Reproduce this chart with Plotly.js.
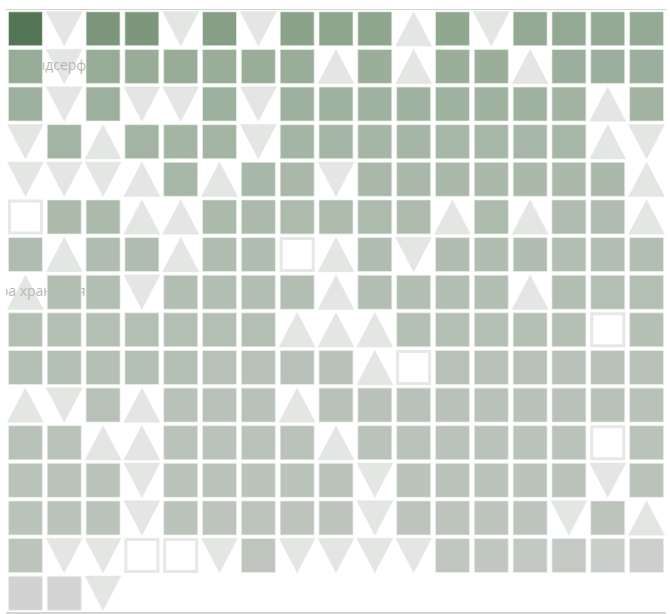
<!DOCTYPE html>
<html>
<head>
<meta charset="utf-8">
<script src="https://cdn.plot.ly/plotly-3.0.1.min.js"></script>
<style>html,body{margin:0;padding:0;background:#fff;}#chart{width:670px;height:614px;}</style>
</head>
<body>
<div id="chart"></div>
<script>
// s = filled square (coloured by value), u = up triangle, d = down triangle, n = empty square
const kinds = [
  "sdssdsdsssusdssss",
  "sdssssssusussusss",
  "sdsddsdssssssssus",
  "dsusssdssssssssud",
  "dddusussdsssssssu",
  "nssuussssssusussu",
  "sussussnusdssssss",
  "ussdssssussssusss",
  "sssssssuuusssssns",
  "sssssssssunssssss",
  "udsusssusssssssss",
  "ssuussssussssssns",
  "sssdsssssdsssssds",
  "sssdsssssdssssdsu",
  "sddnndsddddssssss",
  "ssd"
];
// values of the filled squares (null where the cell is not a filled square)
const valueRows = [
  [100,null,70,69,null,61,null,57,56,55,null,53,null,51,51,50,50],
  [48,null,48,47,47,46,46,46,null,45,null,45,45,null,44,44,44],
  [43,null,43,null,null,42,null,42,41,41,41,40,40,40,39,null,39],
  [null,38,null,38,37,37,null,37,36,36,36,35,35,35,35,null,null],
  [null,null,null,null,34,null,34,33,null,33,33,33,32,32,32,32,null],
  [null,31,31,null,null,31,31,30,30,30,30,null,30,null,29,29,null],
  [29,null,29,29,null,28,28,null,null,28,null,28,28,28,27,27,27],
  [null,27,27,null,27,26,26,26,null,26,26,26,26,null,26,25,25],
  [25,25,25,25,25,25,25,null,null,null,24,24,24,24,24,null,24],
  [24,24,24,24,24,23,23,23,23,null,null,23,23,23,23,23,23],
  [null,null,23,null,22,22,22,null,22,22,22,22,22,22,22,22,22],
  [22,21,null,null,21,21,21,21,null,21,21,21,21,21,21,null,21],
  [21,21,20,null,20,20,20,20,20,null,20,20,20,20,20,null,20],
  [20,20,20,null,20,19,19,19,19,null,19,19,19,19,null,19,null],
  [19,null,null,null,null,null,18,null,null,null,null,16,15,14,13,7,5],
  [2,0,null]
];
const labelTexts = ["Виндсерфинг", "Камера хранения"];
const labelRows = [1, 7];
const labelCols = [1, 0];

const sqX=[],sqY=[],sqV=[];
const nX=[],nY=[];
const upX=[],upY=[],dnX=[],dnY=[];
const hw = 18/38.8, hh = 17.2/37.6;
for (let r=0;r<kinds.length;r++){
  const row = kinds[r];
  for (let c=0;c<row.length;c++){
    const k=row[c];
    if(k==='s'){sqX.push(c);sqY.push(r);sqV.push(valueRows[r][c]);}
    else if(k==='n'){nX.push(c);nY.push(r);}
    else if(k==='u'){upX.push(c-hw,c+hw,c,c-hw,null);upY.push(r+hh,r+hh,r-hh,r+hh,null);}
    else if(k==='d'){dnX.push(c-hw,c+hw,c,c-hw,null);dnY.push(r-hh,r-hh,r+hh,r-hh,null);}
  }
}
const triColor = '#e3e6e3';
const traces = [
  {type:'scatter',mode:'lines',x:upX,y:upY,fill:'toself',fillcolor:triColor,line:{color:triColor,width:0.5},hoverinfo:'skip'},
  {type:'scatter',mode:'lines',x:dnX,y:dnY,fill:'toself',fillcolor:triColor,line:{color:triColor,width:0.5},hoverinfo:'skip'},
  {type:'scatter',mode:'text',x:labelCols,y:labelRows,text:labelTexts,textposition:'middle center',
   textfont:{family:'Open Sans, sans-serif',size:14,color:'#b6b6b6'},hoverinfo:'skip'},
  {type:'scatter',mode:'markers',x:sqX,y:sqY,
   marker:{symbol:'square',size:34,color:sqV,cmin:0,cmax:100,
     colorscale:[[0,'#d3d3d3'],[0.16,'#c0c7c0'],[0.37,'#a4b5a4'],[0.51,'#93a993'],[0.7,'#7b967b'],[1,'#557655']],
     line:{width:1,color:'rgba(235,240,235,0.7)'}}},
  {type:'scatter',mode:'markers',x:nX,y:nY,
   marker:{symbol:'square',size:32,color:'#ffffff',line:{width:3,color:'#e6e8e6'}}}
];
const layout = {
  width:670,height:614,
  margin:{l:6,r:4,t:10,b:2,pad:0},
  paper_bgcolor:'#ffffff',plot_bgcolor:'#ffffff',
  showlegend:false,hovermode:false,
  xaxis:{range:[-0.5,16.5],showgrid:false,zeroline:false,showticklabels:false,ticks:'',
         showline:true,mirror:true,linecolor:'#d3d3d3',linewidth:1.5},
  yaxis:{range:[15.5,-0.5],showgrid:false,zeroline:false,showticklabels:false,ticks:'',showline:false}
};
Plotly.newPlot('chart',traces,layout,{displayModeBar:false,staticPlot:true});
</script>
</body>
</html>
